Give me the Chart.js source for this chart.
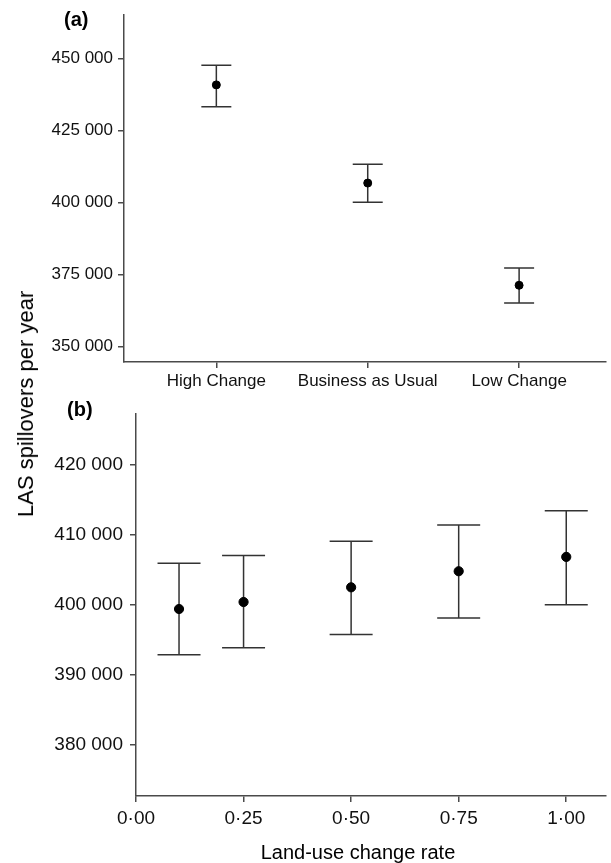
<!DOCTYPE html>
<html>
<head>
<meta charset="utf-8">
<script src="https://cdn.jsdelivr.net/npm/chart.js@4.4.1/dist/chart.umd.min.js"></script>
<style>
  body { margin: 0; background: #fff; font-family: 'Liberation Sans', Arial, sans-serif; }
  #page { position: relative; width: 611px; height: 863px; overflow: hidden; }
  .box { position: absolute; left: 0; width: 611px; }
  .txt { position: absolute; white-space: nowrap; color: #000; }
</style>
</head>
<body>
<div id="page">
  <div class="box" style="top:0;height:395px"><canvas id="chartA"></canvas></div>
  <div class="box" style="top:395px;height:468px"><canvas id="chartB"></canvas></div>
  <div class="txt" style="left:64px;top:9px;font-size:20px;line-height:20px;font-weight:bold">(a)</div>
  <div class="txt" style="left:67px;top:399px;font-size:20px;line-height:20px;font-weight:bold">(b)</div>
  <div class="txt" style="left:25.7px;top:404px;font-size:22px;line-height:22px;transform:translate(-50%,-50%) rotate(-90deg)">LAS spillovers per year</div>
  <div class="txt" style="left:358px;top:842px;font-size:20px;line-height:20px;transform:translateX(-50%)">Land-use change rate</div>
</div>
<script>
// (a) scenarios
const scenarios = ['High Change', 'Business as Usual', 'Low Change'];
const scenarioMean = [440900, 406800, 371300];
const scenarioUpper = [447700, 413300, 377300];
const scenarioLower = [433300, 400100, 365100];
const ticksA = [350000, 375000, 400000, 425000, 450000];

// (b) land-use change rate
const rates = [0.1, 0.25, 0.5, 0.75, 1.0];
const rateMean = [399400, 400400, 402500, 404800, 406850];
const rateUpper = [405950, 407050, 409100, 411400, 413450];
const rateLower = [392850, 393850, 395750, 398100, 400000];
const ticksBy = [380000, 390000, 400000, 410000, 420000];
const ticksBx = [0, 0.25, 0.5, 0.75, 1.0];

const FONT = "'Liberation Sans', Arial, sans-serif";
const AXIS = '#4a4a4a';

function spaced(n) {
  return String(n).replace(/\B(?=(\d{3})+(?!\d))/g, ' ');
}

// draws whiskers + caps from the plugin options, using the chart scales
const errorBars = {
  id: 'errorBars',
  beforeDatasetsDraw(chart, args, opts) {
    const { ctx, scales: { x, y } } = chart;
    ctx.save();
    ctx.strokeStyle = '#333';
    ctx.lineWidth = 1.5;
    opts.xs.forEach((xv, i) => {
      const px = x.getPixelForValue(xv);
      const top = y.getPixelForValue(opts.upper[i]);
      const bot = y.getPixelForValue(opts.lower[i]);
      ctx.beginPath();
      ctx.moveTo(px, top); ctx.lineTo(px, bot);
      ctx.moveTo(px - opts.cap, top); ctx.lineTo(px + opts.cap, top);
      ctx.moveTo(px - opts.cap, bot); ctx.lineTo(px + opts.cap, bot);
      ctx.stroke();
    });
    ctx.restore();
  }
};

function axisGrid() {
  return { display: true, drawOnChartArea: false, drawTicks: true, tickLength: 6, color: AXIS, lineWidth: 1.5 };
}

const posA = scenarios.map((_, i) => i + 1);
new Chart(document.getElementById('chartA'), {
  type: 'scatter',
  data: {
    datasets: [{
      data: posA.map((p, i) => ({ x: p, y: scenarioMean[i] })),
      backgroundColor: '#000', borderColor: '#000',
      pointRadius: 4, pointHoverRadius: 4
    }]
  },
  options: {
    responsive: true, maintainAspectRatio: false, animation: false,
    layout: { padding: { top: 10, right: 0, left: 0, bottom: 0 } },
    plugins: {
      legend: { display: false }, tooltip: { enabled: false },
      errorBars: { xs: posA, upper: scenarioUpper, lower: scenarioLower, cap: 15 }
    },
    scales: {
      x: {
        type: 'linear', min: 0.39, max: 3.574,
        afterBuildTicks: s => { s.ticks = posA.map(v => ({ value: v })); },
        afterFit: s => { s.height = 33; },
        grid: axisGrid(),
        border: { display: true, color: AXIS, width: 1.5 },
        ticks: { color: '#111', padding: 3, maxRotation: 0, font: { family: FONT, size: 17 },
          callback: v => scenarios[v - 1] }
      },
      y: {
        min: 344650, max: 465100,
        afterBuildTicks: s => { s.ticks = ticksA.map(v => ({ value: v })); },
        afterFit: s => { s.width = 124; },
        grid: axisGrid(),
        border: { display: true, color: AXIS, width: 1.5 },
        ticks: { color: '#111', padding: 5, font: { family: FONT, size: 17 }, callback: v => spaced(v) }
      }
    }
  },
  plugins: [errorBars]
});

new Chart(document.getElementById('chartB'), {
  type: 'scatter',
  data: {
    datasets: [{
      data: rates.map((r, i) => ({ x: r, y: rateMean[i] })),
      backgroundColor: '#000', borderColor: '#000',
      pointRadius: 4.6, pointHoverRadius: 4.6
    }]
  },
  options: {
    responsive: true, maintainAspectRatio: false, animation: false,
    layout: { padding: { top: 13, right: 0, left: 0, bottom: 0 } },
    plugins: {
      legend: { display: false }, tooltip: { enabled: false },
      errorBars: { xs: rates, upper: rateUpper, lower: rateLower, cap: 21.5 }
    },
    scales: {
      x: {
        type: 'linear', min: 0, max: 1.091,
        afterBuildTicks: s => { s.ticks = ticksBx.map(v => ({ value: v })); },
        afterFit: s => { s.height = 67; },
        grid: axisGrid(),
        border: { display: true, color: AXIS, width: 1.5 },
        ticks: { color: '#111', padding: 5, maxRotation: 0, font: { family: FONT, size: 19 },
          callback: v => v.toFixed(2).replace('.', '\u00b7') }
      },
      y: {
        min: 372660, max: 427370,
        afterBuildTicks: s => { s.ticks = ticksBy.map(v => ({ value: v })); },
        afterFit: s => { s.width = 136; },
        grid: axisGrid(),
        border: { display: true, color: AXIS, width: 1.5 },
        ticks: { color: '#111', padding: 7, font: { family: FONT, size: 19 }, callback: v => spaced(v) }
      }
    }
  },
  plugins: [errorBars]
});
</script>
</body>
</html>
